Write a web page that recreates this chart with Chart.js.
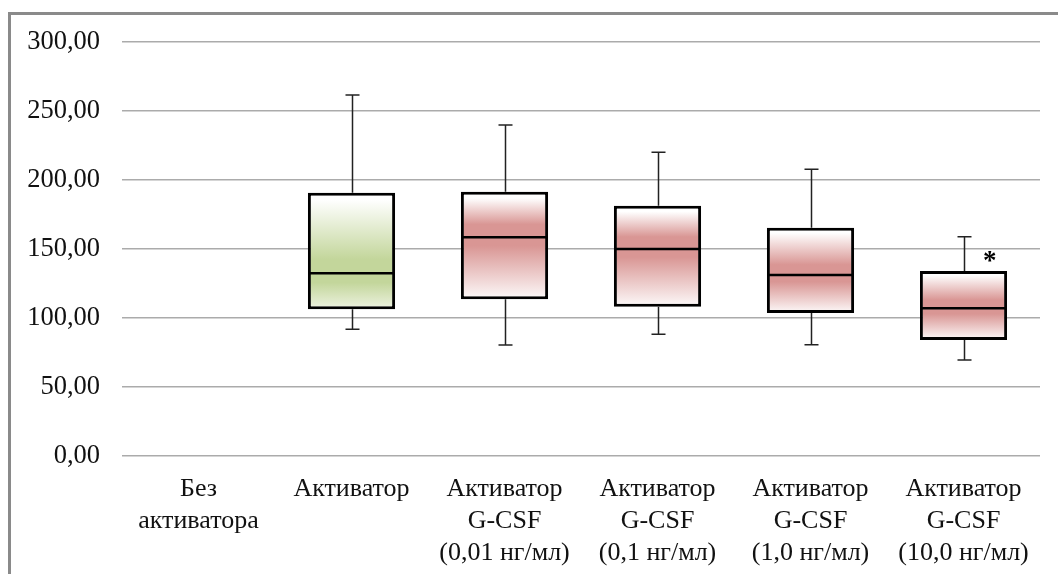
<!DOCTYPE html>
<html>
<head>
<meta charset="utf-8">
<script src="https://cdn.jsdelivr.net/npm/chart.js@4.4.0/dist/chart.umd.min.js"></script>
<style>
    html, body { margin: 0; padding: 0; background: #fff; }
    #wrap { position: relative; width: 1058px; height: 574px; overflow: hidden; }
    #frame {
        position: absolute; left: 8px; top: 12px; width: 1200px; height: 700px;
        border-left: 3px solid #8a8a8a; border-top: 3px solid #8a8a8a;
        pointer-events: none;
    }
    canvas { position: absolute; left: 0; top: 0; }
</style>
</head>
<body>
<div id="wrap">
    <canvas id="boxChart" width="1058" height="574"></canvas>
    <div id="frame"></div>
</div>
<script>
    // categories (multi-line labels)
    const categories = [
        ['Без', 'активатора'],
        ['Активатор'],
        ['Активатор', 'G-CSF', '(0,01 нг/мл)'],
        ['Активатор', 'G-CSF', '(0,1 нг/мл)'],
        ['Активатор', 'G-CSF', '(1,0 нг/мл)'],
        ['Активатор', 'G-CSF', '(10,0 нг/мл)']
    ];

    // box plot values
    const minValues    = [null, 91.8, 80.4, 88.2, 80.7, 69.6];
    const q1Values     = [null, 106.3, 113.5, 108.2, 103.6, 84.1];
    const medianValues = [null, 132.4, 158.5, 150.0, 131.2, 107.0];
    const q3Values     = [null, 190.8, 191.5, 181.4, 165.4, 134.1];
    const maxValues    = [null, 261.6, 239.9, 220.1, 207.7, 158.9];
    const marks        = ['', '', '', '', '', '*'];

    const yTicks = [0, 50, 100, 150, 200, 250, 300];

    const boxColors = ['#ffffff', '#c3d69b', '#d99694', '#d99694', '#d99694', '#d99694'];
    const boxEnds   = ['#ffffff', '#eef3e2', '#fdfafa', '#fdfafa', '#fdfafa', '#fdfafa'];
    const fontFamily = '"Liberation Serif", "Times New Roman", serif';

    const boxData = categories.map((c, i) => q1Values[i] == null ? null : [q1Values[i], q3Values[i]]);

    const boxFill = (ctx) => {
        const chart = ctx.chart;
        const y = chart.scales.y;
        const i = ctx.dataIndex;
        if (!y || ctx.type !== 'data' || q1Values[i] == null) return '#ffffff';
        const top = y.getPixelForValue(q3Values[i]);
        const bot = y.getPixelForValue(q1Values[i]);
        const mid = y.getPixelForValue(medianValues[i]);
        if (!isFinite(top) || !isFinite(bot) || bot <= top) return boxColors[i];
        const f = Math.min(0.85, Math.max(0.2, (mid - top) / (bot - top)));
        const g = chart.ctx.createLinearGradient(0, top, 0, bot);
        g.addColorStop(0, '#ffffff');
        g.addColorStop(0.06, '#ffffff');
        g.addColorStop(f - 0.12, boxColors[i]);
        g.addColorStop(Math.min(0.95, f + 0.08), boxColors[i]);
        g.addColorStop(1, boxEnds[i]);
        return g;
    };

    // whiskers, medians and the asterisk
    const boxPlotExtras = {
        id: 'boxPlotExtras',
        beforeDatasetsDraw(chart) {
            const { ctx, scales: { x, y } } = chart;
            ctx.save();
            ctx.strokeStyle = '#222';
            ctx.lineWidth = 1.5;
            categories.forEach((c, i) => {
                if (minValues[i] == null) return;
                const px = Math.round(x.getPixelForValue(i)) + 0.5;
                const yMin = y.getPixelForValue(minValues[i]);
                const yMax = y.getPixelForValue(maxValues[i]);
                const yQ1 = y.getPixelForValue(q1Values[i]);
                const yQ3 = y.getPixelForValue(q3Values[i]);
                ctx.beginPath();
                ctx.moveTo(px, yMax); ctx.lineTo(px, yQ3);
                ctx.moveTo(px, yQ1); ctx.lineTo(px, yMin);
                ctx.moveTo(px - 7, yMax); ctx.lineTo(px + 7, yMax);
                ctx.moveTo(px - 7, yMin); ctx.lineTo(px + 7, yMin);
                ctx.stroke();
            });
            ctx.restore();
        },
        afterDatasetsDraw(chart) {
            const { ctx, scales: { y } } = chart;
            const meta = chart.getDatasetMeta(0);
            ctx.save();
            ctx.strokeStyle = '#000';
            ctx.lineWidth = 2.5;
            categories.forEach((c, i) => {
                if (medianValues[i] == null) return;
                const bar = meta.data[i];
                const half = bar.width / 2;
                const ym = y.getPixelForValue(medianValues[i]);
                ctx.beginPath();
                ctx.moveTo(bar.x - half + 2, ym);
                ctx.lineTo(bar.x + half - 2, ym);
                ctx.stroke();
                if (marks[i]) {
                    ctx.fillStyle = '#000';
                    ctx.font = 'bold 27px ' + fontFamily;
                    ctx.textAlign = 'center';
                    ctx.textBaseline = 'alphabetic';
                    ctx.fillText(marks[i], bar.x + bar.width * 0.3, y.getPixelForValue(q3Values[i]) - 2);
                }
            });
            ctx.restore();
        }
    };

    new Chart(document.getElementById('boxChart'), {
        type: 'bar',
        data: {
            labels: categories,
            datasets: [{
                data: boxData,
                backgroundColor: boxFill,
                borderColor: '#000',
                borderWidth: 3,
                borderSkipped: false,
                barPercentage: 0.57,
                categoryPercentage: 1
            }]
        },
        options: {
            responsive: false,
            animation: false,
            layout: { padding: { top: 42, right: 18, left: 0, bottom: 0 } },
            plugins: {
                legend: { display: false },
                tooltip: { enabled: false }
            },
            scales: {
                x: {
                    grid: { display: false },
                    border: { display: false },
                    ticks: {
                        color: '#111',
                        font: { family: fontFamily, size: 26, lineHeight: 1.23 },
                        maxRotation: 0,
                        autoSkip: false,
                        padding: 9
                    },
                    afterFit(scale) { scale.height = 574 - 456; }
                },
                y: {
                    min: 0,
                    max: 300,
                    afterBuildTicks(scale) { scale.ticks = yTicks.map(v => ({ value: v })); },
                    grid: { color: '#ababab', lineWidth: 1.5, drawTicks: false },
                    border: { display: false },
                    ticks: {
                        color: '#111',
                        font: { family: fontFamily, size: 26.5 },
                        padding: 22,
                        callback: (v) => v.toFixed(2).replace('.', ',')
                    },
                    afterFit(scale) { scale.width = 122; }
                }
            }
        },
        plugins: [boxPlotExtras]
    });
</script>
</body>
</html>
